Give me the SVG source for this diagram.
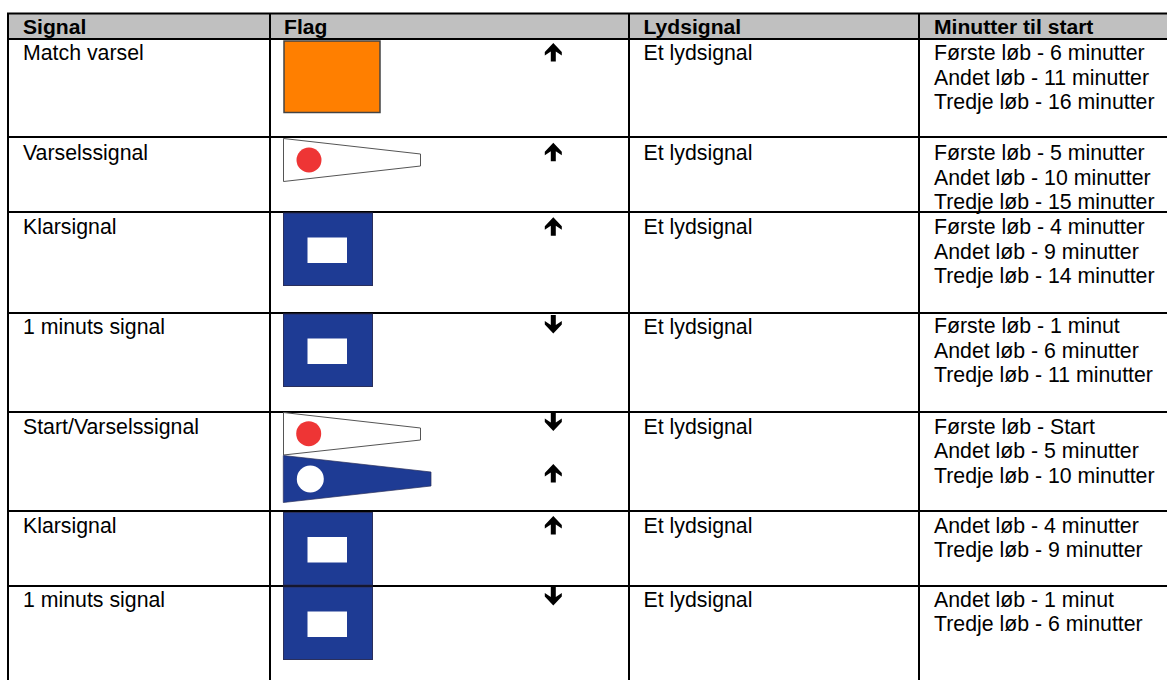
<svg xmlns="http://www.w3.org/2000/svg" width="1167" height="680" viewBox="0 0 1167 680">
<style>
text{font-family:"Liberation Sans",Arial,sans-serif;font-size:21.300px;fill:#000}
.h{font-weight:bold;font-size:21.100px}
.l{stroke:#000;stroke-width:2;fill:none}
.blue{fill:#1e3b94;stroke:#2a2f5c;stroke-width:1}
.win{fill:#fff}
.pw{fill:#fff;stroke:#555;stroke-width:1}
</style>
<defs>
<path id="up" d="M0 0L8.500 9L8.500 12.500L2.500 8.500L2.500 18.500L-2.500 18.500L-2.500 8.500L-8.500 12.500L-8.500 9Z" fill="#000"/>
<path id="down" d="M0 18.500L8.500 9.500L8.500 6L2.500 10L2.500 0L-2.500 0L-2.500 10L-8.500 6L-8.500 9.500Z" fill="#000"/>
<g id="blueflag"><rect class="blue" x="283.500" y="0" width="89" height="72.500"/><rect class="win" x="307.500" y="24.500" width="39.500" height="25.500"/></g>
</defs>
<rect x="8" y="13" width="1159" height="26" fill="#c0c0c0"/>
<g id="connectors">
<path class="l" d="M7 13.500H1167M7 39H1167M7 137H1167M7 212H1167M7 313H1167M7 412H1167M7 511H1167M7 586H1167M8 13V680M270 13V680M629 13V680M919 13V680"/>
</g>
<g id="header">
<text class="h" x="23" y="33.500">Signal</text><text class="h" x="284" y="33.500">Flag</text><text class="h" x="643.500" y="33.500">Lydsignal</text><text class="h" x="934" y="33.500">Minutter til start</text>
</g>
<g id="row1">
<text x="23" y="59.500">Match varsel</text>
<rect x="284" y="41" width="96" height="71.500" fill="#ff7f00" stroke="#444" stroke-width="1.500"/>
<use href="#up" x="553.300" y="43"/>
<text x="643.500" y="59.500">Et lydsignal</text>
<text x="934" y="59.500">Første løb - 6 minutter</text><text x="934" y="84.500">Andet løb - 11 minutter</text><text x="934" y="108.500">Tredje løb - 16 minutter</text>
</g>
<g id="row2">
<text x="23" y="159.500">Varselssignal</text>
<path class="pw" d="M283.500 138.500L420.500 154V166L283.500 181.500Z"/>
<circle cx="309" cy="160" r="12.500" fill="#ee3535"/>
<use href="#up" x="553.300" y="142.700"/>
<text x="643.500" y="159.500">Et lydsignal</text>
<text x="934" y="159.500">Første løb - 5 minutter</text><text x="934" y="184.500">Andet løb - 10 minutter</text><text x="934" y="208.500">Tredje løb - 15 minutter</text>
</g>
<g id="row3">
<text x="23" y="233.500">Klarsignal</text>
<use href="#blueflag" y="213"/>
<use href="#up" x="553.300" y="217.300"/>
<text x="643.500" y="233.500">Et lydsignal</text>
<text x="934" y="233.500">Første løb - 4 minutter</text><text x="934" y="258.500">Andet løb - 9 minutter</text><text x="934" y="283">Tredje løb - 14 minutter</text>
</g>
<g id="row4">
<text x="23" y="333.500">1 minuts signal</text>
<use href="#blueflag" y="314"/>
<use href="#down" x="553.300" y="315"/>
<text x="643.500" y="333.500">Et lydsignal</text>
<text x="934" y="333">Første løb - 1 minut</text><text x="934" y="358">Andet løb - 6 minutter</text><text x="934" y="382">Tredje løb - 11 minutter</text>
</g>
<g id="row5">
<text x="23" y="433.500">Start/Varselssignal</text>
<path class="pw" d="M283.500 412.500L420.500 428V440L283.500 455Z"/>
<circle cx="308.700" cy="433.700" r="12.500" fill="#ee3535"/>
<path d="M283.300 455.500L431 472V486L283.300 502.500Z" fill="#1e3b94" stroke="#2a2f5c" stroke-width="0.700"/>
<circle cx="310.300" cy="479" r="13.500" fill="#fff"/>
<use href="#down" x="553.300" y="412.500"/>
<use href="#up" x="553.300" y="464"/>
<text x="643.500" y="433.500">Et lydsignal</text>
<text x="934" y="433.500">Første løb - Start</text><text x="934" y="457.500">Andet løb - 5 minutter</text><text x="934" y="482.500">Tredje løb - 10 minutter</text>
</g>
<g id="row6">
<text x="23" y="532.500">Klarsignal</text>
<use href="#blueflag" y="512.500"/>
<use href="#up" x="553.300" y="516"/>
<text x="643.500" y="532.500">Et lydsignal</text>
<text x="934" y="532.500">Andet løb - 4 minutter</text><text x="934" y="556.500">Tredje løb - 9 minutter</text>
</g>
<g id="row7">
<text x="23" y="606.500">1 minuts signal</text>
<use href="#blueflag" y="587"/>
<use href="#down" x="553.300" y="587"/>
<text x="643.500" y="606.500">Et lydsignal</text>
<text x="934" y="606.500">Andet løb - 1 minut</text><text x="934" y="630.500">Tredje løb - 6 minutter</text>
</g>
</svg>
